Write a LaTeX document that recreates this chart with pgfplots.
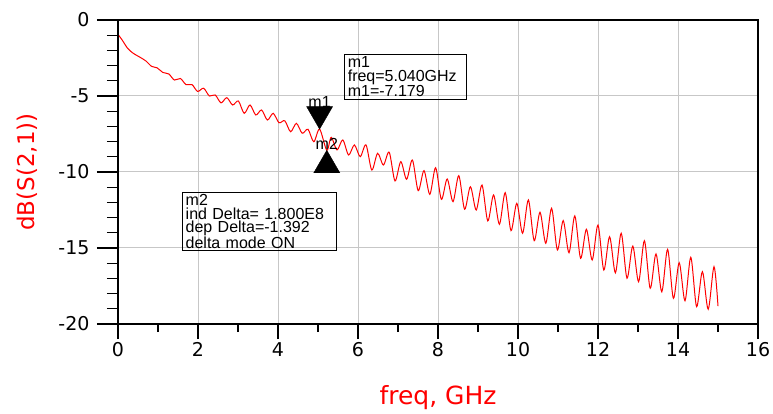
\documentclass[border=0pt]{standalone}
\usepackage{pgfplots}
\pgfplotsset{compat=1.18}
\usepackage{fontspec}
\setmainfont{Liberation Sans}
\newfontfamily\djv{DejaVu Sans}

\begin{document}
\begin{tikzpicture}
\pgfplotsset{
  common/.style={
    scale only axis, width=640pt, height=304pt,
    xmin=0, xmax=16, ymin=-20, ymax=0,
    axis line style={black, line width=1.5pt},
    tick align=outside, tick pos=left,
    /pgf/number format/assume math mode=true,
  }
}
\begin{axis}[common,
  xtick={0,2,...,16}, minor x tick num=1,
  ytick={-20,-15,...,0}, yticklabels={},
  xmajorgrids, ymajorgrids,
  major grid style={black!22, line width=1pt},
  major tick length=15pt, minor tick length=8pt,
  xtick style={black, line width=1.2pt},
  ytick style={draw=none},
  xticklabel style={font=\djv\fontsize{19}{22}\selectfont},
  xlabel={freq, GHz},
  xlabel style={font=\djv\fontsize{25}{28}\selectfont, text=red, at={(axis description cs:0.5,-0.243)}, anchor=center},
  ylabel={dB(S(2,1))},
  ylabel style={font=\djv\fontsize{23}{26}\selectfont, text=red, at={(axis description cs:-0.142,0.5)}, anchor=center},
]
\addplot[red, line width=1pt, smooth, tension=0.5] coordinates {
(0,-0.95) (0.1,-1.3) (0.24,-1.86) (0.38,-2.19) (0.55,-2.45) (0.7,-2.7)
(0.84,-3.05) (0.98,-3.15) (1.12,-3.45) (1.27,-3.55) (1.41,-3.95) (1.56,-3.85)
(1.70,-4.25) (1.85,-4.25) (1.99,-4.70) (2.14,-4.49) (2.285,-5.0) (2.43,-4.93)
(2.575,-5.45) (2.72,-5.11) (2.865,-5.59) (3.01,-5.33) (3.155,-6.14) (3.30,-5.59)
(3.445,-6.25) (3.59,-5.92) (3.735,-6.58) (3.88,-6.14) (4.025,-6.76) (4.17,-6.63)
(4.315,-7.35) (4.46,-6.80) (4.605,-7.45) (4.75,-7.19) (4.895,-8.01) (5.04,-7.179)
(5.22,-8.571) (5.33,-7.72) (5.475,-8.55) (5.62,-7.89) (5.765,-8.88) (5.91,-8.22)
(6.055,-8.99) (6.20,-8.22) (6.345,-9.87) (6.49,-8.77) (6.635,-9.54) (6.78,-8.70)
(6.925,-10.59) (7.07,-9.32) (7.215,-10.48) (7.36,-9.21) (7.505,-11.23) (7.65,-9.91)
(7.795,-11.47) (7.94,-9.72) (8.085,-11.80) (8.23,-10.46) (8.375,-11.95) (8.52,-10.24)
(8.665,-12.45) (8.81,-10.97) (8.955,-12.50) (9.10,-10.86) (9.245,-13.22) (9.39,-11.51)
(9.535,-13.44) (9.68,-11.36) (9.825,-13.86) (9.97,-12.06) (10.115,-14.03) (10.26,-11.84)
(10.405,-14.52) (10.55,-12.65) (10.695,-14.69) (10.84,-12.39) (10.985,-15.13) (11.13,-13.20)
(11.275,-15.31) (11.42,-12.89) (11.565,-15.68) (11.71,-13.77) (11.855,-15.79) (12.00,-13.49)
(12.145,-16.45) (12.29,-14.26) (12.435,-16.63) (12.58,-14.03) (12.725,-16.99) (12.87,-14.87)
(13.015,-17.22) (13.16,-14.52) (13.305,-17.65) (13.45,-15.39) (13.595,-17.88) (13.74,-15.09)
(13.885,-18.31) (14.03,-15.97) (14.175,-18.47) (14.32,-15.61) (14.465,-18.86) (14.61,-16.56)
(14.755,-19.03) (14.90,-16.23) (15.0,-18.82)
};
\addplot[only marks, mark=triangle*, mark size=15pt, mark options={black, fill=black, yshift=15pt, rotate=180}] coordinates {(5.04,-7.179)};
\addplot[only marks, mark=triangle*, mark size=15pt, mark options={black, fill=black, yshift=-15pt}] coordinates {(5.22,-8.571)};
\node[anchor=base, yshift=22pt, font=\fontsize{16}{16}\selectfont] at (axis cs:5.04,-7.179) {m1};
\node[anchor=base, yshift=1pt, font=\fontsize{16}{16}\selectfont] at (axis cs:5.22,-8.571) {m2};
\node[draw=black, line width=0.8pt, anchor=north west, align=left, text width=116pt, inner xsep=3pt, inner ysep=2pt, font=\fontsize{16}{13.8}\selectfont] at (axis cs:5.66,-2.24) {m1\\freq=5.040GHz\\m1=-7.179};
\node[draw=black, line width=0.8pt, anchor=north west, align=left, text width=148pt, inner xsep=3pt, inner ysep=2pt, font=\fontsize{16}{13.4}\selectfont] at (axis cs:1.6075,-11.34) {m2\\ind Delta= 1.800E8\\dep Delta=-1.392\\delta mode ON};
\coordinate (sw) at (rel axis cs:0,0);
\coordinate (ne) at (rel axis cs:1,1);
\end{axis}
\begin{axis}[common,
  xtick=\empty,
  ytick={-20,-15,...,0}, minor y tick num=4,
  major tick length=21pt, minor tick length=11pt,
  ytick style={black, line width=1.2pt},
  yticklabel style={font=\djv\fontsize{19}{22}\selectfont, xshift=-4pt},
]
\end{axis}
\pgfresetboundingbox
\path ([xshift=-118pt,yshift=-90pt]sw) rectangle ([xshift=15pt,yshift=20pt]ne);
\end{tikzpicture}
\end{document}
